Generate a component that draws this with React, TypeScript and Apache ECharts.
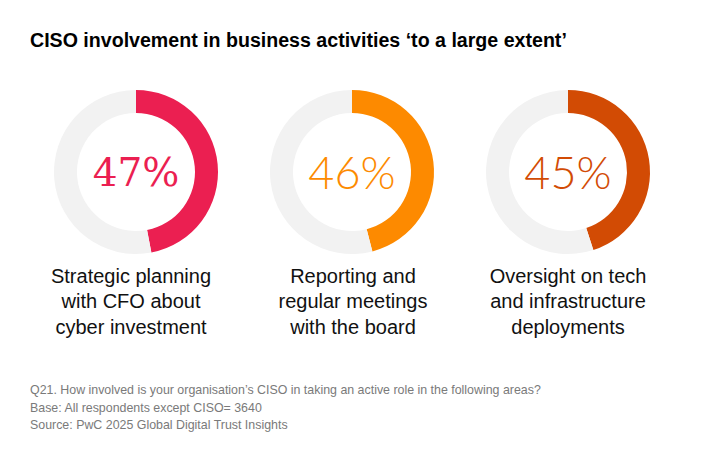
import React, { useEffect, useRef } from "react";
import * as echarts from "echarts";

const categories = [
  "Strategic planning\nwith CFO about\ncyber investment",
  "Reporting and\nregular meetings\nwith the board",
  "Oversight on tech\nand infrastructure\ndeployments",
];
const values = [47, 46, 45];
const colors = ["#EB1F51", "#FD8A00", "#D24B04"];
const titleText = "CISO involvement in business activities \u2018to a large extent\u2019";
const footnotes = [
  "Q21. How involved is your organisation\u2019s CISO in taking an active role in the following areas?",
  "Base: All respondents except CISO= 3640",
  "Source: PwC 2025 Global Digital Trust Insights",
];

export default function App() {
  const ref = useRef<HTMLDivElement>(null);
  useEffect(() => {
    document.body.style.margin = "0";
    const chart = echarts.init(ref.current!, null, { renderer: "svg" });
    const centersX = [136, 352, 568];
    const labelX = [131, 353, 568];
    const pctFonts = [
      { fontFamily: "DejaVu Serif", fontSize: 39, fontWeight: "normal" },
      { fontFamily: "Lato", fontSize: 45, fontWeight: 300 },
      { fontFamily: "Lato", fontSize: 45, fontWeight: 300 },
    ];
    const cy = 172;
    const series = values.map((v, i) => ({
      type: "pie",
      center: [centersX[i], cy],
      radius: [59, 82],
      startAngle: 90,
      clockwise: true,
      silent: true,
      emphasis: { disabled: true },
      labelLine: { show: false },
      data: [
        {
          value: v,
          itemStyle: { color: colors[i] },
          label: {
            show: true,
            position: "center",
            formatter: "{c}%",
            color: colors[i],
            ...pctFonts[i],
          },
        },
        { value: 100 - v, itemStyle: { color: "#F2F2F2" }, label: { show: false } },
      ],
    }));
    const graphics: any[] = [
      {
        type: "text",
        left: 30,
        top: 30,
        style: {
          text: titleText,
          fontFamily: "Liberation Sans, Arial, sans-serif",
          fontWeight: "bold",
          fontSize: 19.6,
          fill: "#000",
        },
      },
    ];
    categories.forEach((c, i) => {
      graphics.push({
        type: "text",
        x: labelX[i],
        y: 263,
        style: {
          text: c,
          textAlign: "center",
          textVerticalAlign: "top",
          fontFamily: "Liberation Sans, Arial, sans-serif",
          fontSize: 20,
          lineHeight: 25.5,
          fill: "#111",
        },
      });
    });
    footnotes.forEach((f, i) => {
      graphics.push({
        type: "text",
        x: 30,
        y: 384 + i * 17.5,
        style: {
          text: f,
          fontFamily: "Liberation Sans, Arial, sans-serif",
          fontSize: 12.4,
          fill: "#7a7a7a",
        },
      });
    });
    chart.setOption({
      animation: false,
      backgroundColor: "#fff",
      series,
      graphic: graphics,
    });
    return () => chart.dispose();
  }, []);
  return <div ref={ref} style={{ width: 706, height: 452 }} />;
}
